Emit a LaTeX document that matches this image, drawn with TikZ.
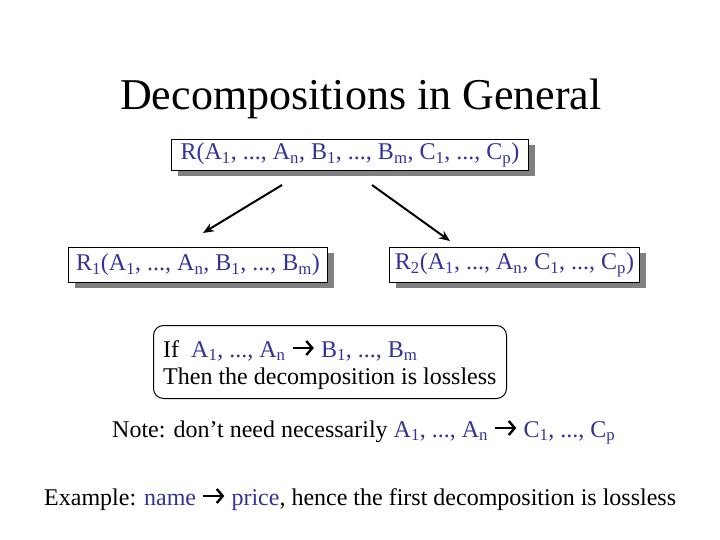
\documentclass[tikz,border=0pt]{standalone}
\usepackage{fontspec}
\setmainfont{Liberation Serif}
\usetikzlibrary{arrows.meta}
\definecolor{bt}{RGB}{51,51,153}
\definecolor{shadowgray}{RGB}{128,128,128}
\newcommand{\myar}{\tikz[x=1pt,y=1pt,baseline=0pt]{\path (0,0) -- (23,0);\draw[line width=2.4pt, -{Straight Barb[length=6pt,width=14pt,line width=2.4pt]}] (1,9) -- (22,9);}}
\newcommand{\sbx}[1]{\textsubscript{#1}}
\begin{document}
\begin{tikzpicture}[x=1pt,y=-1pt,
  box/.style={draw=black, line width=1pt, fill=white, anchor=north west, inner sep=0pt, text=bt, font=\fontsize{24}{28}\selectfont},
  shad/.style={fill=shadowgray},
  arr/.style={line width=2pt, -{Stealth[length=11pt,width=9pt]}},
  txt/.style={anchor=base west, inner sep=0pt, font=\fontsize{24}{28}\selectfont}]
\useasboundingbox[fill=white] (0,0) rectangle (720,540);
\node[anchor=base west, inner sep=0pt, font=\fontsize{44}{52}\selectfont] (title) at (120,110) {Decompositions in General};
% top box
\fill[shad] (178,145) rectangle (535,176);
\node[box, minimum width=357pt, minimum height=31pt] (R) at (171,139) {R(A\sbx{1}, ..., A\sbx{n}, B\sbx{1}, ..., B\sbx{m}, C\sbx{1}, ..., C\sbx{p})};
% left box
\fill[shad] (75,253) rectangle (334,288);
\node[box, minimum width=259pt, minimum height=35pt] (R1) at (68,247) {R\sbx{1}(A\sbx{1}, ..., A\sbx{n}, B\sbx{1}, ..., B\sbx{m})};
% right box
\fill[shad] (396,253) rectangle (646,288);
\node[box, minimum width=250pt, minimum height=35pt] (R2) at (389,247) {R\sbx{2}(A\sbx{1}, ..., A\sbx{n}, C\sbx{1}, ..., C\sbx{p})};
% arrows
\coordinate (ls) at (282,185);
\coordinate (le) at (203,233);
\coordinate (rs) at (372,185);
\coordinate (re) at (450,241);
\draw[arr] (ls) -- (le);
\draw[arr] (rs) -- (re);
% condition box
\node[draw=black, line width=1pt, rounded corners=10pt, anchor=north west, minimum width=353pt, minimum height=73pt, inner sep=0pt] (cond) at (153,325) {};
\node[txt] (if) at (163,357) {If\ \ \textcolor{bt}{A\sbx{1}, ..., A\sbx{n}} \myar{} \textcolor{bt}{B\sbx{1}, ..., B\sbx{m}}};
\node[txt] (then) at (163,384) {Then the decomposition is lossless};
% note
\node[txt] (note) at (112,437) {Note: don’t need necessarily \textcolor{bt}{A\sbx{1}, ..., A\sbx{n}} \myar{} \textcolor{bt}{C\sbx{1}, ..., C\sbx{p}}};
% example
\node[txt] (ex) at (44,505) {Example: \textcolor{bt}{name} \myar{} \textcolor{bt}{price}, hence the first decomposition is lossless};
\end{tikzpicture}
\end{document}
